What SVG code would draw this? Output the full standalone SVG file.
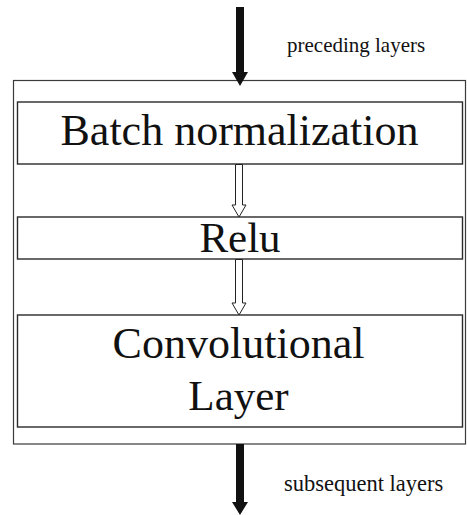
<svg xmlns="http://www.w3.org/2000/svg" width="467" height="515" viewBox="0 0 467 515">
<style>
.box{fill:#fff;stroke:#2a2a2a;stroke-width:1.4}
.outer{fill:#fff;stroke:#3a3a3a;stroke-width:1.2}
.big{font-family:"Liberation Serif","Times New Roman",serif;font-size:44px;fill:#111;text-anchor:middle}
.small{font-family:"Liberation Serif","Times New Roman",serif;fill:#111}
.solid{fill:#111;stroke:none}
.hollow{fill:#fff;stroke:#222;stroke-width:1}
</style>
<rect width="467" height="515" fill="#fff"/>
<g id="container"><rect class="outer" x="13.5" y="80.5" width="452" height="363.5"/></g>
<g id="batch-norm">
<rect class="box" x="17.5" y="102" width="445" height="62"/>
<text class="big" x="239.5" y="145">Batch normalization</text>
</g>
<g id="relu">
<rect class="box" x="17.5" y="217" width="445" height="42"/>
<text class="big" x="240" y="251.5" style="font-size:43px">Relu</text>
</g>
<g id="conv">
<rect class="box" x="17.5" y="315" width="445" height="112"/>
<text class="big" x="238.5" y="358">Convolutional</text>
<text class="big" x="238.5" y="410" style="font-size:43px">Layer</text>
</g>
<g id="connectors">
<polygon class="solid" points="236,7 244,7 244,72 248,72 240,86 232,72 236,72"/>
<polygon class="solid" points="236,444 244,444 244,502 248,502 240,515 232,502 236,502"/>
<polygon class="hollow" points="235.5,164.5 242.5,164.5 242.5,205 246,205 239,217 232,205 235.5,205"/>
<polygon class="hollow" points="235.5,259.5 242.5,259.5 242.5,303 246,303 239,315 232,303 235.5,303"/>
</g>
<g id="labels">
<text class="small" x="287" y="51.5" style="font-size:21px">preceding layers</text>
<text class="small" x="284" y="491" style="font-size:22.5px">subsequent layers</text>
</g>
</svg>
